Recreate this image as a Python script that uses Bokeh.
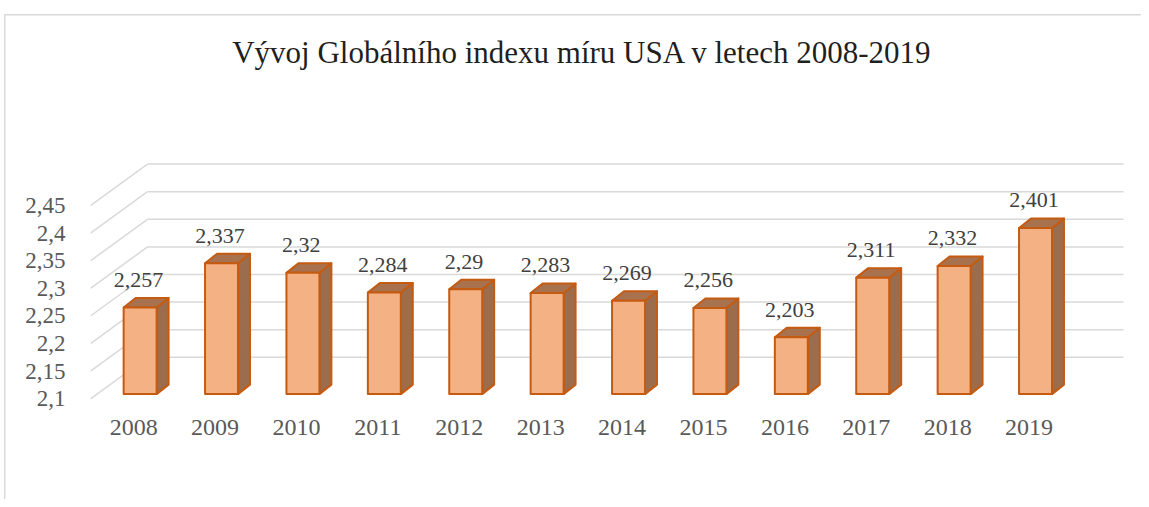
from bokeh.plotting import figure
from bokeh.models import FixedTicker
from bokeh.core.properties import value
from bokeh.embed import file_html
from bokeh.resources import INLINE

# ---------------- data ----------------
years = ["2008", "2009", "2010", "2011", "2012", "2013",
         "2014", "2015", "2016", "2017", "2018", "2019"]
gpi_values = [2.257, 2.337, 2.32, 2.284, 2.29, 2.283,
              2.269, 2.256, 2.203, 2.311, 2.332, 2.401]
y_ticks = [2.1, 2.15, 2.2, 2.25, 2.3, 2.35, 2.4, 2.45]
y_tick_labels = ["2,1", "2,15", "2,2", "2,25", "2,3", "2,35", "2,4", "2,45"]
title_text = "Vývoj Globálního indexu míru USA v letech 2008-2019"

# ---------------- geometry (data units) ----------------
BASE = 2.1
X_LEFT, X_RIGHT = -0.5307, 12.381
Y_BOTTOM, Y_TOP = 2.08786, 2.82156
WALL_DX, WALL_DY = 0.700, 0.0752      # depth of the back wall
FACE_DX, FACE_DY = 0.079, 0.0085      # bar front plane position in depth
BAR_DX, BAR_DY = 0.147, 0.0172        # bar depth
BAR_W = 0.405
WALL_END = 12.16
LABEL_GAP = 0.050

FONT = "Liberation Serif"
GRID = "#D9D9D9"
FRONT = "#F4B183"
SIDE = "#9C6D4C"
TOP = "#A8724F"
EDGE = "#C55A11"

p = figure(width=1141, height=499, output_backend="svg", toolbar_location=None,
           x_range=(X_LEFT, X_RIGHT), y_range=(Y_BOTTOM, Y_TOP),
           min_border_left=90, min_border_right=0, min_border_top=0,
           min_border_bottom=94)
p.outline_line_color = None
p.xgrid.visible = False
p.ygrid.visible = False
p.background_fill_color = None
p.border_fill_color = None
# thin light-grey chart-area border (top and left), as in the reference
p.styles = {
    "background-color": "white",
    "background-image": "linear-gradient(#D9D9D9, #D9D9D9), linear-gradient(#D9D9D9, #D9D9D9)",
    "background-size": "1.5px 100%, 100% 1.5px",
    "background-position": "4px 14px, 4px 14px",
    "background-repeat": "no-repeat",
}

# ---------------- back wall & side wall gridlines ----------------
diag_xs, diag_ys, back_xs, back_ys = [], [], [], []
for t in y_ticks:
    diag_xs.append([X_LEFT, X_LEFT + WALL_DX])
    diag_ys.append([t, t + WALL_DY])
    back_xs.append([X_LEFT + WALL_DX, WALL_END])
    back_ys.append([t + WALL_DY, t + WALL_DY])
p.multi_line(diag_xs, diag_ys, line_color=GRID, line_width=1.5)
p.multi_line(back_xs, back_ys, line_color=GRID, line_width=1.5)

# ---------------- 3D bars ----------------
fx, fy, sx, sy, tx, ty = [], [], [], [], [], []
cx, lab_y, lab_txt = [], [], []
for i, v in enumerate(gpi_values):
    l = i + FACE_DX - BAR_W / 2
    r = i + FACE_DX + BAR_W / 2
    b = BASE + FACE_DY
    t = v + FACE_DY
    fx.append([l, r, r, l]); fy.append([b, b, t, t])
    sx.append([r, r + BAR_DX, r + BAR_DX, r]); sy.append([b, b + BAR_DY, t + BAR_DY, t])
    tx.append([l, r, r + BAR_DX, l + BAR_DX]); ty.append([t, t, t + BAR_DY, t + BAR_DY])
    cx.append(i + FACE_DX - 0.02)
    lab_y.append(t + LABEL_GAP)
    lab_txt.append(str(v).replace(".", ","))

p.patches(sx, sy, fill_color=SIDE, line_color=EDGE, line_width=2, line_join="round")
p.patches(tx, ty, fill_color=TOP, line_color=EDGE, line_width=2, line_join="round")
p.patches(fx, fy, fill_color=FRONT, line_color=EDGE, line_width=2, line_join="round")

p.text(x=cx, y=lab_y, text=lab_txt, text_align="center", text_baseline="alphabetic",
       text_font=value(FONT), text_font_size="22px", text_color="#404040")

# ---------------- title ----------------
p.text(x=[5.51], y=[2.728], text=[title_text], text_align="center",
       text_baseline="alphabetic", text_font=value(FONT), text_font_size="31px",
       text_color="#1f1f1f")

# ---------------- axes ----------------
yax = p.yaxis[0]
yax.ticker = FixedTicker(ticks=y_ticks)
yax.major_label_overrides = {t: s for t, s in zip(y_ticks, y_tick_labels)}
yax.axis_line_color = None
yax.major_tick_line_color = None
yax.minor_tick_line_color = None
yax.major_label_standoff = 19
yax.major_label_text_font = FONT
yax.major_label_text_font_size = "23px"
yax.major_label_text_color = "#595959"

xax = p.xaxis[0]
xax.ticker = FixedTicker(ticks=list(range(len(years))))
xax.major_label_overrides = {i: y for i, y in enumerate(years)}
xax.axis_line_color = None
xax.major_tick_line_color = None
xax.minor_tick_line_color = None
xax.major_label_standoff = 8
xax.major_label_text_font = FONT
xax.major_label_text_font_size = "24px"
xax.major_label_text_color = "#595959"

open("out.html", "w").write(file_html(p, INLINE))
